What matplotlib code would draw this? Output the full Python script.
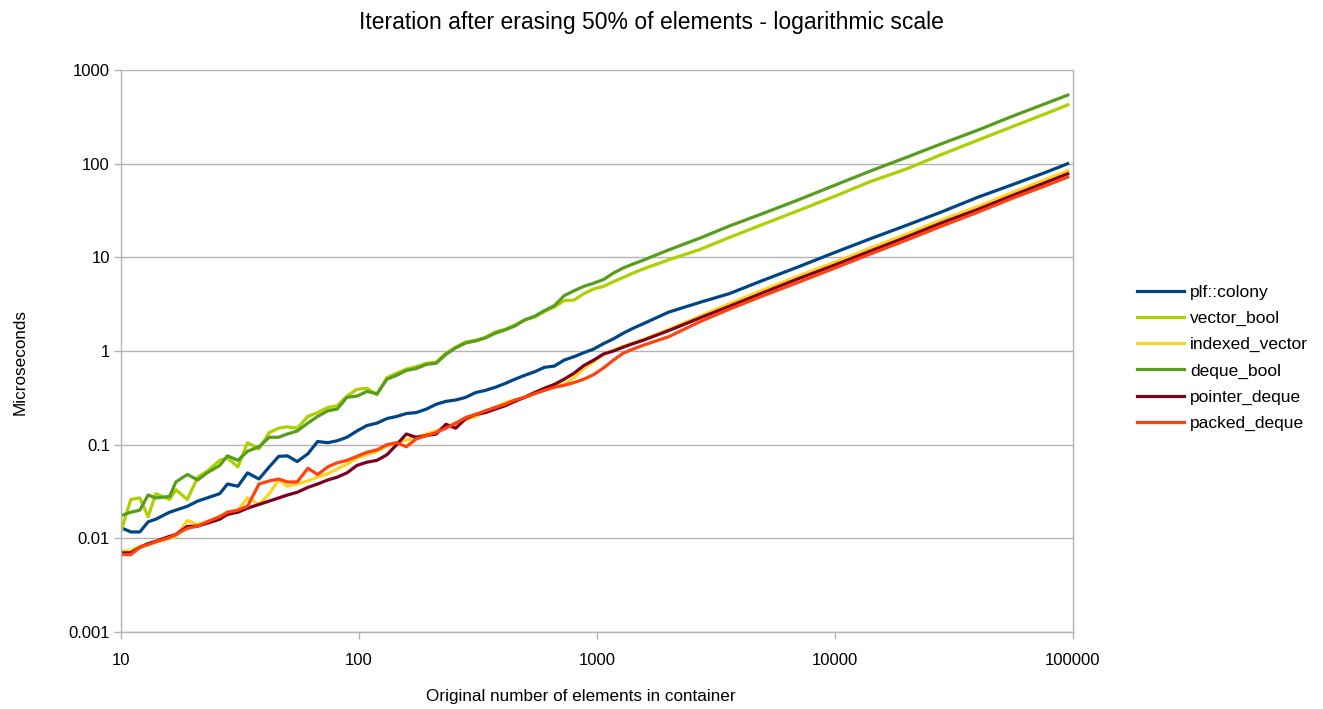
import matplotlib
matplotlib.use("Agg")
import matplotlib.pyplot as plt
from matplotlib.ticker import FixedLocator, FixedFormatter, NullLocator

plt.rcParams['font.family'] = ['Liberation Sans', 'DejaVu Sans']

# Original number of elements in container
x_values = [10, 11, 12, 13, 14, 16, 17, 19, 21, 23, 26, 28, 31, 34, 38, 42, 46, 50,
            55, 61, 67, 74, 81, 89, 98, 108, 119, 131, 144, 158, 174, 192, 211, 232,
            255, 281, 309, 340, 374, 411, 452, 497, 547, 602, 662, 728, 801, 881, 969,
            1066, 1173, 1290, 1419, 1561, 2000, 2700, 3600, 5000, 7000, 10000, 14000,
            20000, 28000, 40000, 56000, 78000, 95000]

colony = [0.013, 0.0117, 0.0117, 0.015, 0.016, 0.019, 0.020, 0.022, 0.025, 0.027,
          0.030, 0.038, 0.036, 0.050, 0.043, 0.058, 0.075, 0.076, 0.066, 0.080,
          0.108, 0.105, 0.110, 0.120, 0.140, 0.16, 0.17, 0.19, 0.20, 0.215,
          0.22, 0.24, 0.27, 0.29, 0.30, 0.32, 0.36, 0.38, 0.41, 0.45,
          0.50, 0.55, 0.60, 0.67, 0.69, 0.80, 0.87, 0.96, 1.05, 1.2,
          1.35, 1.55, 1.75, 1.95, 2.6, 3.3, 4.1, 5.7, 7.9, 11.3, 15.7,
          22, 30.5, 44, 60, 82, 100]

vector_bool = [0.012, 0.026, 0.027, 0.017, 0.030, 0.026, 0.033, 0.026, 0.045, 0.052,
               0.068, 0.072, 0.058, 0.105, 0.090, 0.135, 0.15, 0.155, 0.15, 0.20,
               0.22, 0.25, 0.26, 0.33, 0.39, 0.40, 0.34, 0.52, 0.58, 0.64,
               0.68, 0.74, 0.76, 0.95, 1.10, 1.25, 1.30, 1.40, 1.60, 1.70,
               1.90, 2.15, 2.30, 2.65, 2.95, 3.45, 3.50, 4.1, 4.6, 4.9,
               5.5, 6.1, 6.8, 7.5, 9.4, 12.1, 16.3, 22.6, 31.5, 45, 64,
               88, 125, 179, 250, 347, 424]

indexed_vector = [0.0073, 0.0074, 0.0082, 0.0085, 0.0091, 0.0100, 0.0105, 0.0155, 0.014, 0.015,
                  0.017, 0.019, 0.020, 0.027, 0.023, 0.030, 0.042, 0.036, 0.038, 0.041,
                  0.045, 0.049, 0.055, 0.062, 0.072, 0.078, 0.085, 0.096, 0.105, 0.112,
                  0.12, 0.13, 0.14, 0.155, 0.17, 0.185, 0.20, 0.225, 0.25, 0.28,
                  0.30, 0.32, 0.36, 0.40, 0.43, 0.44, 0.52, 0.65, 0.77, 0.92,
                  1.02, 1.12, 1.22, 1.32, 1.7, 2.35, 3.2, 4.5, 6.3, 8.9, 12.5,
                  17.7, 25, 35, 49.5, 69, 84]

deque_bool = [0.0175, 0.019, 0.020, 0.029, 0.027, 0.028, 0.040, 0.048, 0.042, 0.050,
              0.060, 0.076, 0.068, 0.085, 0.095, 0.12, 0.12, 0.13, 0.14, 0.17,
              0.20, 0.23, 0.24, 0.32, 0.33, 0.37, 0.35, 0.50, 0.55, 0.62,
              0.65, 0.72, 0.74, 0.92, 1.08, 1.22, 1.28, 1.38, 1.55, 1.68,
              1.85, 2.15, 2.35, 2.70, 3.05, 3.90, 4.40, 4.90, 5.3, 5.8,
              6.8, 7.7, 8.5, 9.3, 12, 16, 21.6, 29.5, 41, 59, 83,
              117, 163, 229, 323, 445, 540]

pointer_deque = [0.0070, 0.0070, 0.0080, 0.0088, 0.0093, 0.0105, 0.0110, 0.0134, 0.0135, 0.0145,
                 0.016, 0.018, 0.019, 0.021, 0.023, 0.025, 0.027, 0.029, 0.031, 0.035,
                 0.038, 0.042, 0.045, 0.050, 0.060, 0.065, 0.068, 0.078, 0.10, 0.13,
                 0.12, 0.125, 0.13, 0.165, 0.15, 0.19, 0.21, 0.22, 0.24, 0.26,
                 0.29, 0.32, 0.36, 0.40, 0.44, 0.50, 0.58, 0.70, 0.80, 0.93,
                 1.0, 1.1, 1.2, 1.3, 1.65, 2.25, 3.0, 4.2, 5.9, 8.3, 11.6,
                 16.5, 23.3, 32.6, 46, 64, 78]

packed_deque = [0.0067, 0.0067, 0.0080, 0.0086, 0.0092, 0.0102, 0.0110, 0.0128, 0.0135, 0.015,
                0.017, 0.019, 0.020, 0.022, 0.038, 0.041, 0.043, 0.040, 0.040, 0.056,
                0.048, 0.058, 0.064, 0.068, 0.075, 0.083, 0.088, 0.10, 0.105, 0.095,
                0.115, 0.125, 0.135, 0.15, 0.17, 0.195, 0.21, 0.23, 0.25, 0.27,
                0.30, 0.32, 0.35, 0.38, 0.41, 0.43, 0.46, 0.50, 0.56, 0.66,
                0.80, 0.95, 1.05, 1.15, 1.42, 2.05, 2.8, 3.9, 5.4, 7.7, 10.8,
                15.3, 21.5, 30.5, 43, 59, 72]

series_names = ['plf::colony', 'vector_bool', 'indexed_vector', 'deque_bool',
                'pointer_deque', 'packed_deque']
series_values = [colony, vector_bool, indexed_vector, deque_bool, pointer_deque, packed_deque]
series_colors = ['#004586', '#aecf00', '#ffd320', '#579d1c', '#7e0021', '#ff420e']

x_ticks = [10, 100, 1000, 10000, 100000]
x_tick_labels = ['10', '100', '1000', '10000', '100000']
y_ticks = [0.001, 0.01, 0.1, 1, 10, 100, 1000]
y_tick_labels = ['0.001', '0.01', '0.1', '1', '10', '100', '1000']

fig = plt.figure(figsize=(13.23, 7.09), dpi=100)
ax = fig.add_axes([121 / 1323, 1 - 632 / 709, (1073 - 121) / 1323, (632 - 70) / 709])

for name, vals, col in zip(series_names, series_values, series_colors):
    ax.plot(x_values, vals, color=col, linewidth=2.3, label=name, solid_joinstyle='round')

ax.set_xscale('log')
ax.set_yscale('log')
ax.set_xlim(10, 100000)
ax.set_ylim(0.001, 1000)

ax.xaxis.set_major_locator(FixedLocator(x_ticks))
ax.xaxis.set_major_formatter(FixedFormatter(x_tick_labels))
ax.xaxis.set_minor_locator(NullLocator())
ax.yaxis.set_major_locator(FixedLocator(y_ticks))
ax.yaxis.set_major_formatter(FixedFormatter(y_tick_labels))
ax.yaxis.set_minor_locator(NullLocator())

ax.grid(axis='y', color='#b3b3b3', linewidth=1.0)
ax.set_axisbelow(True)
for side in ['left', 'bottom', 'right', 'top']:
    ax.spines[side].set_color('#b3b3b3')
    ax.spines[side].set_linewidth(1.0)
ax.spines['top'].set_visible(False)
ax.tick_params(axis='both', which='major', color='#b3b3b3', length=5, width=1,
               labelsize=12, labelcolor='#000000')
ax.tick_params(axis='x', pad=10)
ax.tick_params(axis='y', pad=3)

fig.text(651 / 1323, 1 - 22 / 709, 'Iteration after erasing 50% of elements - logarithmic scale',
         ha='center', va='center', fontsize=16.5)
fig.text(581 / 1323, 1 - 697 / 709, 'Original number of elements in container',
         ha='center', va='center', fontsize=12.3)
fig.text(20 / 1323, 1 - 362 / 709, 'Microseconds', ha='center', va='center',
         rotation=90, fontsize=12.3)

fig.legend(loc='center left', bbox_to_anchor=(1137 / 1323, 1 - 358 / 709), frameon=False,
           fontsize=12.5, handlelength=2.7, handletextpad=0.35, labelspacing=0.63,
           borderpad=0, borderaxespad=0)

fig.savefig('out.png', dpi=100)
